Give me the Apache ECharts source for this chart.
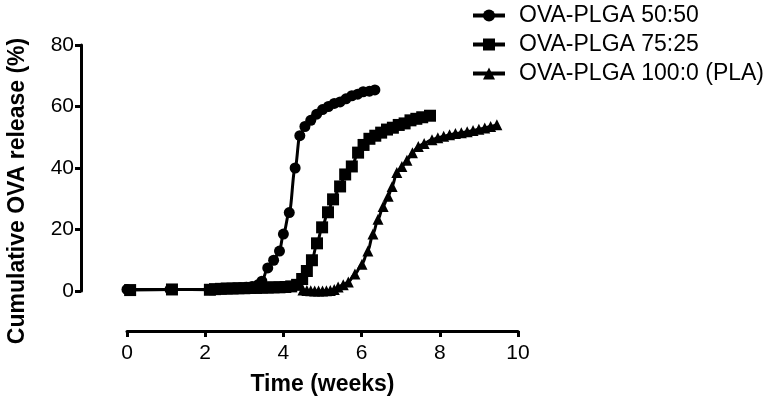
<!DOCTYPE html>
<html>
<head>
<meta charset="utf-8">
<script src="https://cdn.jsdelivr.net/npm/echarts@6/dist/echarts.min.js"></script>
<style>
html,body{margin:0;padding:0;background:#fff;}
#chart{width:775px;height:401px;}
</style>
</head>
<body>
<div id="chart"></div>
<script>
// ---- Data ----
const seriesNames = ['OVA-PLGA 50:50', 'OVA-PLGA 75:25', 'OVA-PLGA 100:0 (PLA)'];

const weeks5050 = [0, 1.1, 2.1, 2.3, 2.45, 2.6, 2.75, 2.9, 3.05, 3.2, 3.35, 3.45, 3.6, 3.75, 3.9, 4.0, 4.15, 4.3, 4.42, 4.55, 4.7, 4.85, 5.0, 5.15, 5.3, 5.45, 5.6, 5.75, 5.9, 6.04, 6.2, 6.34];
const release5050 = [0.5, 0.5, 0.5, 0.6, 0.7, 0.8, 0.9, 1.0, 1.2, 1.5, 2.0, 3.2, 7.5, 10.0, 13.0, 18.5, 25.5, 40.0, 50.5, 53.5, 55.5, 57.5, 59.0, 60.0, 61.0, 61.5, 62.5, 63.5, 64.0, 64.8, 65.0, 65.4];

const weeks7525 = [0.08, 1.15, 2.12, 2.25, 2.4, 2.55, 2.7, 2.85, 3.0, 3.15, 3.3, 3.45, 3.6, 3.75, 3.9, 4.05, 4.2, 4.35, 4.48, 4.6, 4.73, 4.86, 4.99, 5.14, 5.27, 5.45, 5.58, 5.75, 5.91, 6.05, 6.2, 6.35, 6.5, 6.65, 6.8, 6.95, 7.1, 7.25, 7.4, 7.55, 7.75];
const release7525 = [0.3, 0.5, 0.4, 0.6, 0.7, 0.8, 0.8, 0.9, 0.9, 1.0, 1.0, 1.1, 1.1, 1.2, 1.2, 1.3, 1.5, 2.0, 3.9, 6.5, 10.0, 15.5, 20.7, 25.6, 29.8, 34.0, 37.9, 40.5, 45.0, 47.5, 49.5, 50.5, 51.5, 52.5, 53.1, 54.0, 54.5, 55.5, 56.0, 56.5, 57.0];

const weeksPLA = [4.5, 4.6, 4.7, 4.8, 4.9, 5.0, 5.1, 5.2, 5.3, 5.4, 5.53, 5.66, 5.83, 6.01, 6.16, 6.29, 6.42, 6.55, 6.68, 6.78, 6.9, 7.03, 7.16, 7.3, 7.45, 7.6, 7.8, 7.95, 8.1, 8.25, 8.4, 8.55, 8.7, 8.85, 9.0, 9.15, 9.3, 9.46];
const releasePLA = [0.3, 0.2, 0.1, 0.0, 0.0, 0.0, 0.1, 0.2, 0.5, 1.3, 2.0, 2.9, 5.5, 8.7, 13.0, 18.5, 23.3, 27.5, 30.8, 34.0, 38.5, 40.5, 42.5, 45.0, 47.0, 48.0, 49.2, 49.8, 50.3, 50.8, 51.2, 51.5, 51.8, 52.2, 52.6, 53.0, 53.5, 54.1];

const xTicks = [0, 2, 4, 6, 8, 10];
const yTicks = [0, 20, 40, 60, 80];
const xTitle = 'Time (weeks)';
const yTitle = 'Cumulative OVA release (%)';

function pairs(xs, ys){ return xs.map((x, i) => [x, ys[i]]); }

const FONT = 'Liberation Sans, Arial, sans-serif';
const chart = echarts.init(document.getElementById('chart'), null, {renderer: 'canvas'});

function mkSeries(name, data, symbol, size){
  return {
    name: name, type: 'line', data: data,
    symbol: symbol, symbolSize: size, showSymbol: true,
    smooth: 0.35, smoothMonotone: 'x',
    lineStyle: {color: '#000', width: 3},
    itemStyle: {color: '#000', borderWidth: 0},
    emphasis: {disabled: true},
    animation: false, z: 3
  };
}

chart.setOption({
  backgroundColor: '#fff',
  animation: false,
  grid: {left: 127, right: 257, top: 45, bottom: 109, containLabel: false},
  legend: {
    orient: 'vertical', left: 471, top: 4, padding: 0,
    itemWidth: 32, itemHeight: 15, itemGap: 6,
    lineStyle: {width: 4},
    textStyle: {fontFamily: FONT, fontSize: 23, color: '#000', padding: [0, 0, 0, 9]},
    data: seriesNames
  },
  xAxis: {
    type: 'value', min: xTicks[0], max: xTicks[xTicks.length - 1], interval: 2,
    offset: 40,
    axisLine: {show: true, onZero: false, lineStyle: {color: '#000', width: 3}},
    axisTick: {show: true, length: 6, lineStyle: {color: '#000', width: 3}},
    axisLabel: {fontFamily: FONT, fontSize: 21, color: '#000', margin: 12},
    splitLine: {show: false},
    name: xTitle, nameLocation: 'middle', nameGap: 42,
    nameTextStyle: {fontFamily: FONT, fontSize: 23, fontWeight: 'bold', color: '#000'}
  },
  yAxis: {
    type: 'value', min: yTicks[0], max: yTicks[yTicks.length - 1], interval: 20,
    offset: 46,
    axisLine: {show: true, onZero: false, lineStyle: {color: '#000', width: 3}},
    axisTick: {show: true, length: 6, lineStyle: {color: '#000', width: 3}},
    axisLabel: {fontFamily: FONT, fontSize: 21, color: '#000', margin: 7},
    splitLine: {show: false}
  },
  graphic: [{
    type: 'text', x: 18, y: 191, rotation: Math.PI / 2,
    style: {text: yTitle, font: 'bold 23px ' + FONT, fill: '#000', align: 'center', verticalAlign: 'middle'}
  }],
  series: [
    mkSeries(seriesNames[0], pairs(weeks5050, release5050), 'circle', 11),
    mkSeries(seriesNames[1], pairs(weeks7525, release7525), 'rect', 12),
    mkSeries(seriesNames[2], pairs(weeksPLA, releasePLA), 'triangle', 11)
  ]
});
</script>
</body>
</html>
